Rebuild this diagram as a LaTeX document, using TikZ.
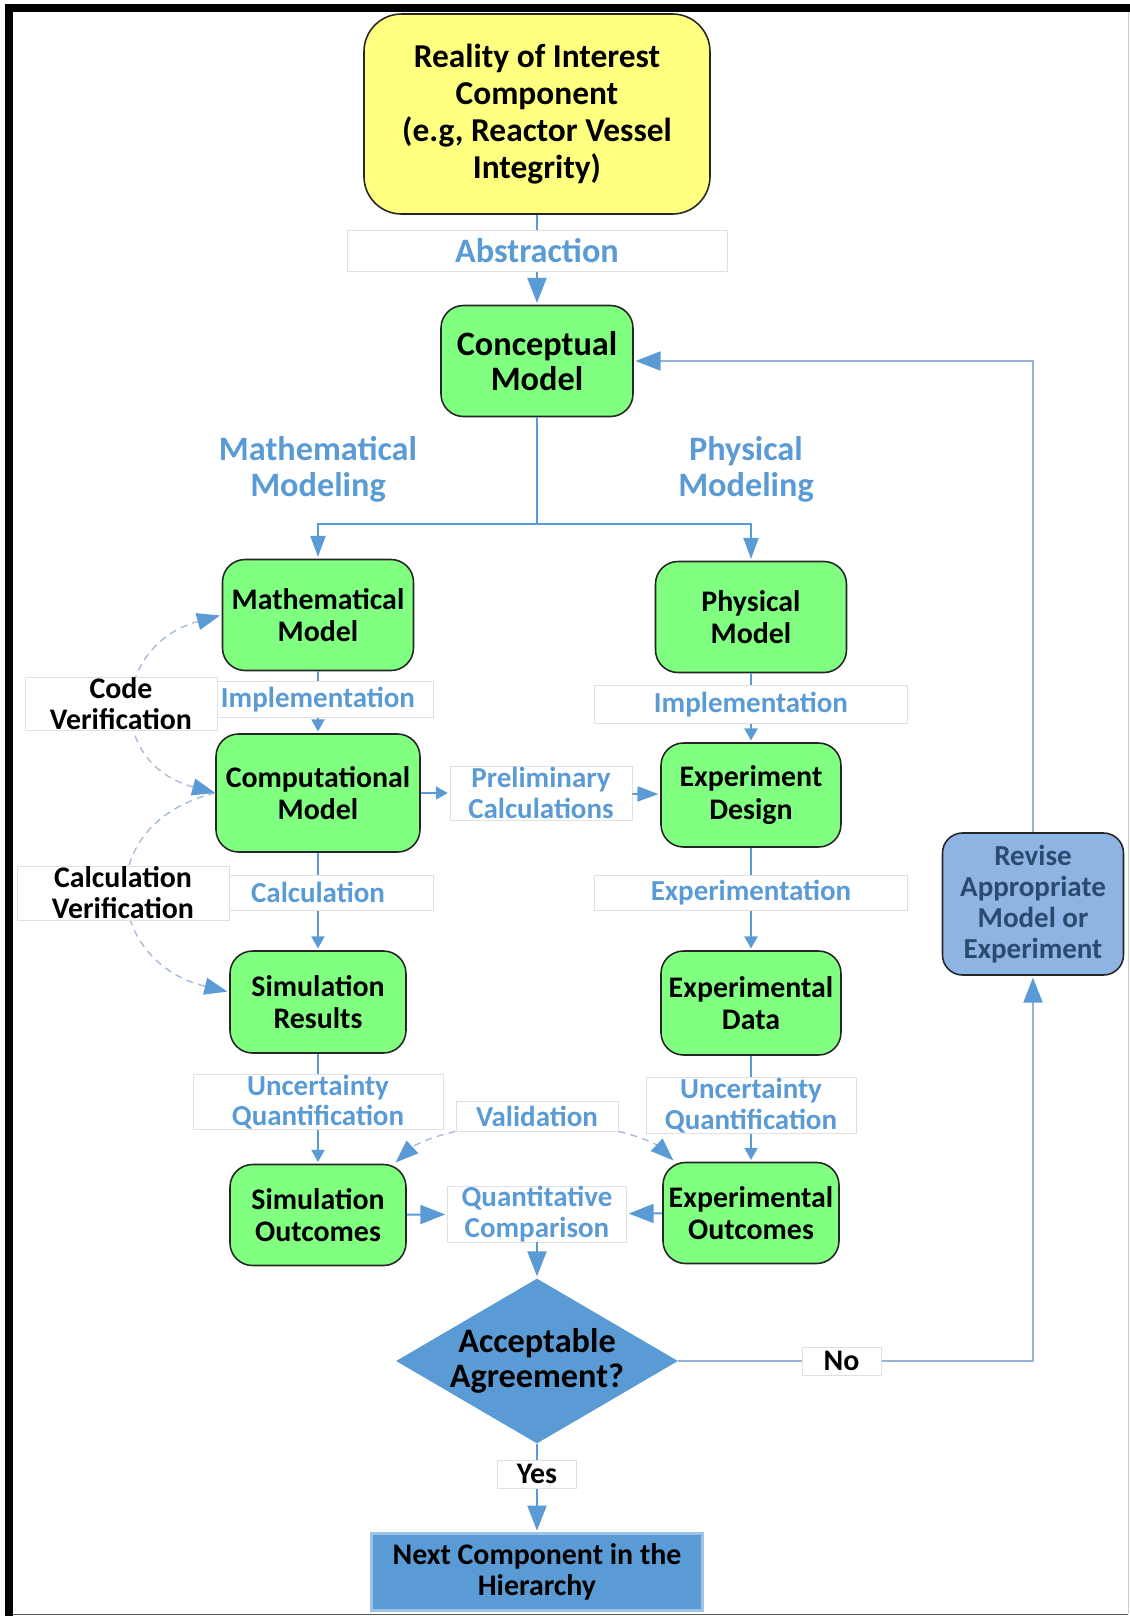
\documentclass[tikz,border=0pt]{standalone}
\usepackage{fontspec}
\setmainfont{Carlito}
\usetikzlibrary{positioning,shapes.geometric,arrows.meta}

\definecolor{mgreen}{HTML}{80FF80}
\definecolor{myellow}{HTML}{FFFF80}
\definecolor{lblue}{HTML}{5B9BD5}
\definecolor{rblue}{HTML}{8DB4E2}
\definecolor{rtext}{HTML}{2B4A6F}
\definecolor{fbline}{HTML}{95B3D7}
\definecolor{dashc}{HTML}{A7BCD8}
\definecolor{nextb}{HTML}{9DC3E6}

\begin{document}
\begin{tikzpicture}[on grid,shorten >=1pt,
	model/.style={draw=black!85,fill=mgreen,line width=0.9pt,rounded corners=0.45cm,align=center,inner sep=1pt,font=\bfseries\fontsize{17}{18.5}\selectfont},
	lbl/.style={draw=black!12,fill=white,line width=0.5pt,align=center,inner sep=0pt,text=lblue,font=\bfseries\fontsize{16.5}{17.6}\selectfont},
	note/.style={lbl,text=black,font=\bfseries\fontsize{17}{17.6}\selectfont},
	toplbl/.style={align=center,text=lblue,font=\bfseries\fontsize{19.5}{20.5}\selectfont},
	bigtxt/.style={font=\bfseries\fontsize{19.5}{20}\selectfont},
	conn/.style={draw=lblue,line width=1.1pt},
	arr/.style={conn,->,>={Triangle[length=0.5cm,width=0.38cm,color=lblue]}},
	arrm/.style={conn,->,>={Triangle[length=0.42cm,width=0.3cm,color=lblue]}},
	arrs/.style={conn,->,>={Triangle[length=0.24cm,width=0.26cm,color=lblue]}},
	vrf/.style={draw=dashc,line width=0.8pt,dash pattern=on 4pt off 3pt,>={Triangle[length=0.46cm,width=0.34cm,color=lblue]}}]
\useasboundingbox (-10.74,2.28) rectangle (11.86,-30.04);
\fill[black] (-10.64,2.2) rectangle (11.86,2.04);
\fill[black] (-10.64,2.2) rectangle (-10.48,-30.04);
\draw[black!65,line width=0.6pt] (-10.48,-30.01) -- (11.86,-30.01);
\draw[black!20,line width=0.6pt] (11.83,2.04) -- (11.83,-30.04);

\node[model,fill=myellow,rounded corners=0.75cm,minimum width=6.92cm,minimum height=4cm,font=\bfseries\fontsize{19}{21}\selectfont]	(real)	{Reality of Interest\\Component\\(e.g, Reactor Vessel\\Integrity)};
\node[model,bigtxt,minimum width=3.84cm,minimum height=2.22cm]	(concept)	[below=4.94 of real]	{Conceptual\\Model};
\node[model,minimum width=3.82cm,minimum height=2.22cm]	(mathm)	[below left=5.08 and 4.38 of concept]	{Mathematical\\Model};
\node[model,minimum width=3.82cm,minimum height=2.22cm]	(phys)	[below right=5.12 and 4.28 of concept]	{Physical\\Model};
\node[model,minimum width=4.08cm,minimum height=2.36cm]	(comp)	[below=3.56 of mathm]	{Computational\\Model};
\node[model,minimum width=3.6cm,minimum height=2.08cm]	(expd)	[below=3.56 of phys]	{Experiment\\Design};
\node[model,minimum width=3.52cm,minimum height=2.04cm]	(simr)	[below=4.18 of comp]	{Simulation\\Results};
\node[model,minimum width=3.6cm,minimum height=2.08cm]	(expdata)	[below=4.16 of expd]	{Experimental\\Data};
\node[model,minimum width=3.52cm,minimum height=2.02cm]	(simo)	[below=4.26 of simr]	{Simulation\\Outcomes};
\node[model,minimum width=3.52cm,minimum height=2.02cm]	(expo)	[below=4.2 of expdata]	{Experimental\\Outcomes};
\node[diamond,fill=lblue,aspect=1.71,inner sep=0pt,minimum width=5.64cm,minimum height=3.3cm,
	label={[align=center,bigtxt]center:Acceptable\\Agreement?}]	(agree)	[below=20 of concept]	{};
\node[lbl,minimum width=3.58cm,minimum height=0.88cm]	(qc)	[above=2.94 of agree]	{Quantitative\\Comparison};
\node[draw=nextb,line width=1.2pt,fill=lblue,minimum width=6.62cm,minimum height=1.54cm,align=center,font=\bfseries\fontsize{17}{17.6}\selectfont]	(next)	[below=4.22 of agree]	{Next Component in the\\Hierarchy};
\node[model,fill=rblue,text=rtext,rounded corners=0.4cm,minimum width=3.62cm,minimum height=2.84cm,font=\bfseries\fontsize{16.5}{17.6}\selectfont]	(revise)	[below right=2.18 and 5.64 of expd]	{Revise\\Appropriate\\Model or\\Experiment};
\node[lbl,minimum width=3.64cm,minimum height=1.08cm]	(prelim)	[right=4.46 of comp]	{Preliminary\\Calculations};
\node[toplbl]	(mmlbl)	[above=2.92 of mathm]	{Mathematical\\Modeling};
\node[toplbl]	(pmlbl)	[above=2.96 of phys,xshift=-0.1cm]	{Physical\\Modeling};

\coordinate[below=3.26 of concept]	(split);
\draw[arrm]	(concept) -- (split) -| (mathm);
\draw[arrm]	(split) -| (phys);

\path	(real)	edge[arr]	node[lbl,bigtxt,pos=0.4,minimum width=7.6cm,minimum height=0.82cm]	{Abstraction}	(concept)
	(mathm)	edge[arrs]	node[lbl,pos=0.45,minimum width=4.6cm,minimum height=0.72cm]	{Implementation}	(comp)
	(phys)	edge[arrs]	node[lbl,pos=0.45,minimum width=6.26cm,minimum height=0.76cm]	{Implementation}	(expd)
	(comp)	edge[arrs]	(prelim)
	(prelim)	edge[arrm]	(expd)
	(comp)	edge[arrs]	node[lbl,pos=0.41,minimum width=4.6cm,minimum height=0.7cm]	{Calculation}	(simr)
	(expd)	edge[arrs]	node[lbl,pos=0.44,minimum width=6.26cm,minimum height=0.7cm]	{Experimentation}	(expdata)
	(simr)	edge[arrs]	node[lbl,pos=0.44,minimum width=5cm,minimum height=1.08cm]	{Uncertainty\\Quantification}	(simo)
	(expdata)	edge[arrs]	node[lbl,pos=0.47,minimum width=4.2cm,minimum height=1.12cm]	{Uncertainty\\Quantification}	(expo)
	(simo)	edge[arr]	(qc)
	(expo)	edge[arr]	(qc)
	(qc)	edge[arr]	(agree)
	(agree)	edge[arr]	node[note,pos=0.34,minimum width=1.58cm,minimum height=0.56cm]	{Yes}	(next);
\draw[arr,draw=fbline]	(agree) -| node[note,pos=0.23,minimum width=1.58cm,minimum height=0.56cm] {No} (revise);
\draw[arr,draw=fbline]	(revise) |- (concept);

\node[lbl,minimum width=3.24cm,minimum height=0.6cm]	(valid)	[above=1.96 of qc]	{Validation};
\draw[vrf,<->]	(comp.west) .. controls +(-2.2,0.6) and +(-2.2,-0.6) .. (mathm.west);
\draw[vrf,->]	(comp.west) .. controls +(-2.5,-0.6) and +(-2.5,0.6) .. ([yshift=0.2cm]simr.west);
\draw[vrf,->]	(valid.south west) to[bend right=15] ([xshift=-0.25cm]simo.north east);
\draw[vrf,->]	(valid.south east) to[bend left=15] ([xshift=0.25cm]expo.north west);
\node[note,minimum width=3.84cm,minimum height=1.06cm]	(codev)	[below left=1.78 and 3.94 of mathm]	{Code\\Verification};
\node[note,minimum width=4.24cm,minimum height=1.08cm]	(calcv)	[below left=2.0 and 3.9 of comp]	{Calculation\\Verification};
\end{tikzpicture}
\end{document}
